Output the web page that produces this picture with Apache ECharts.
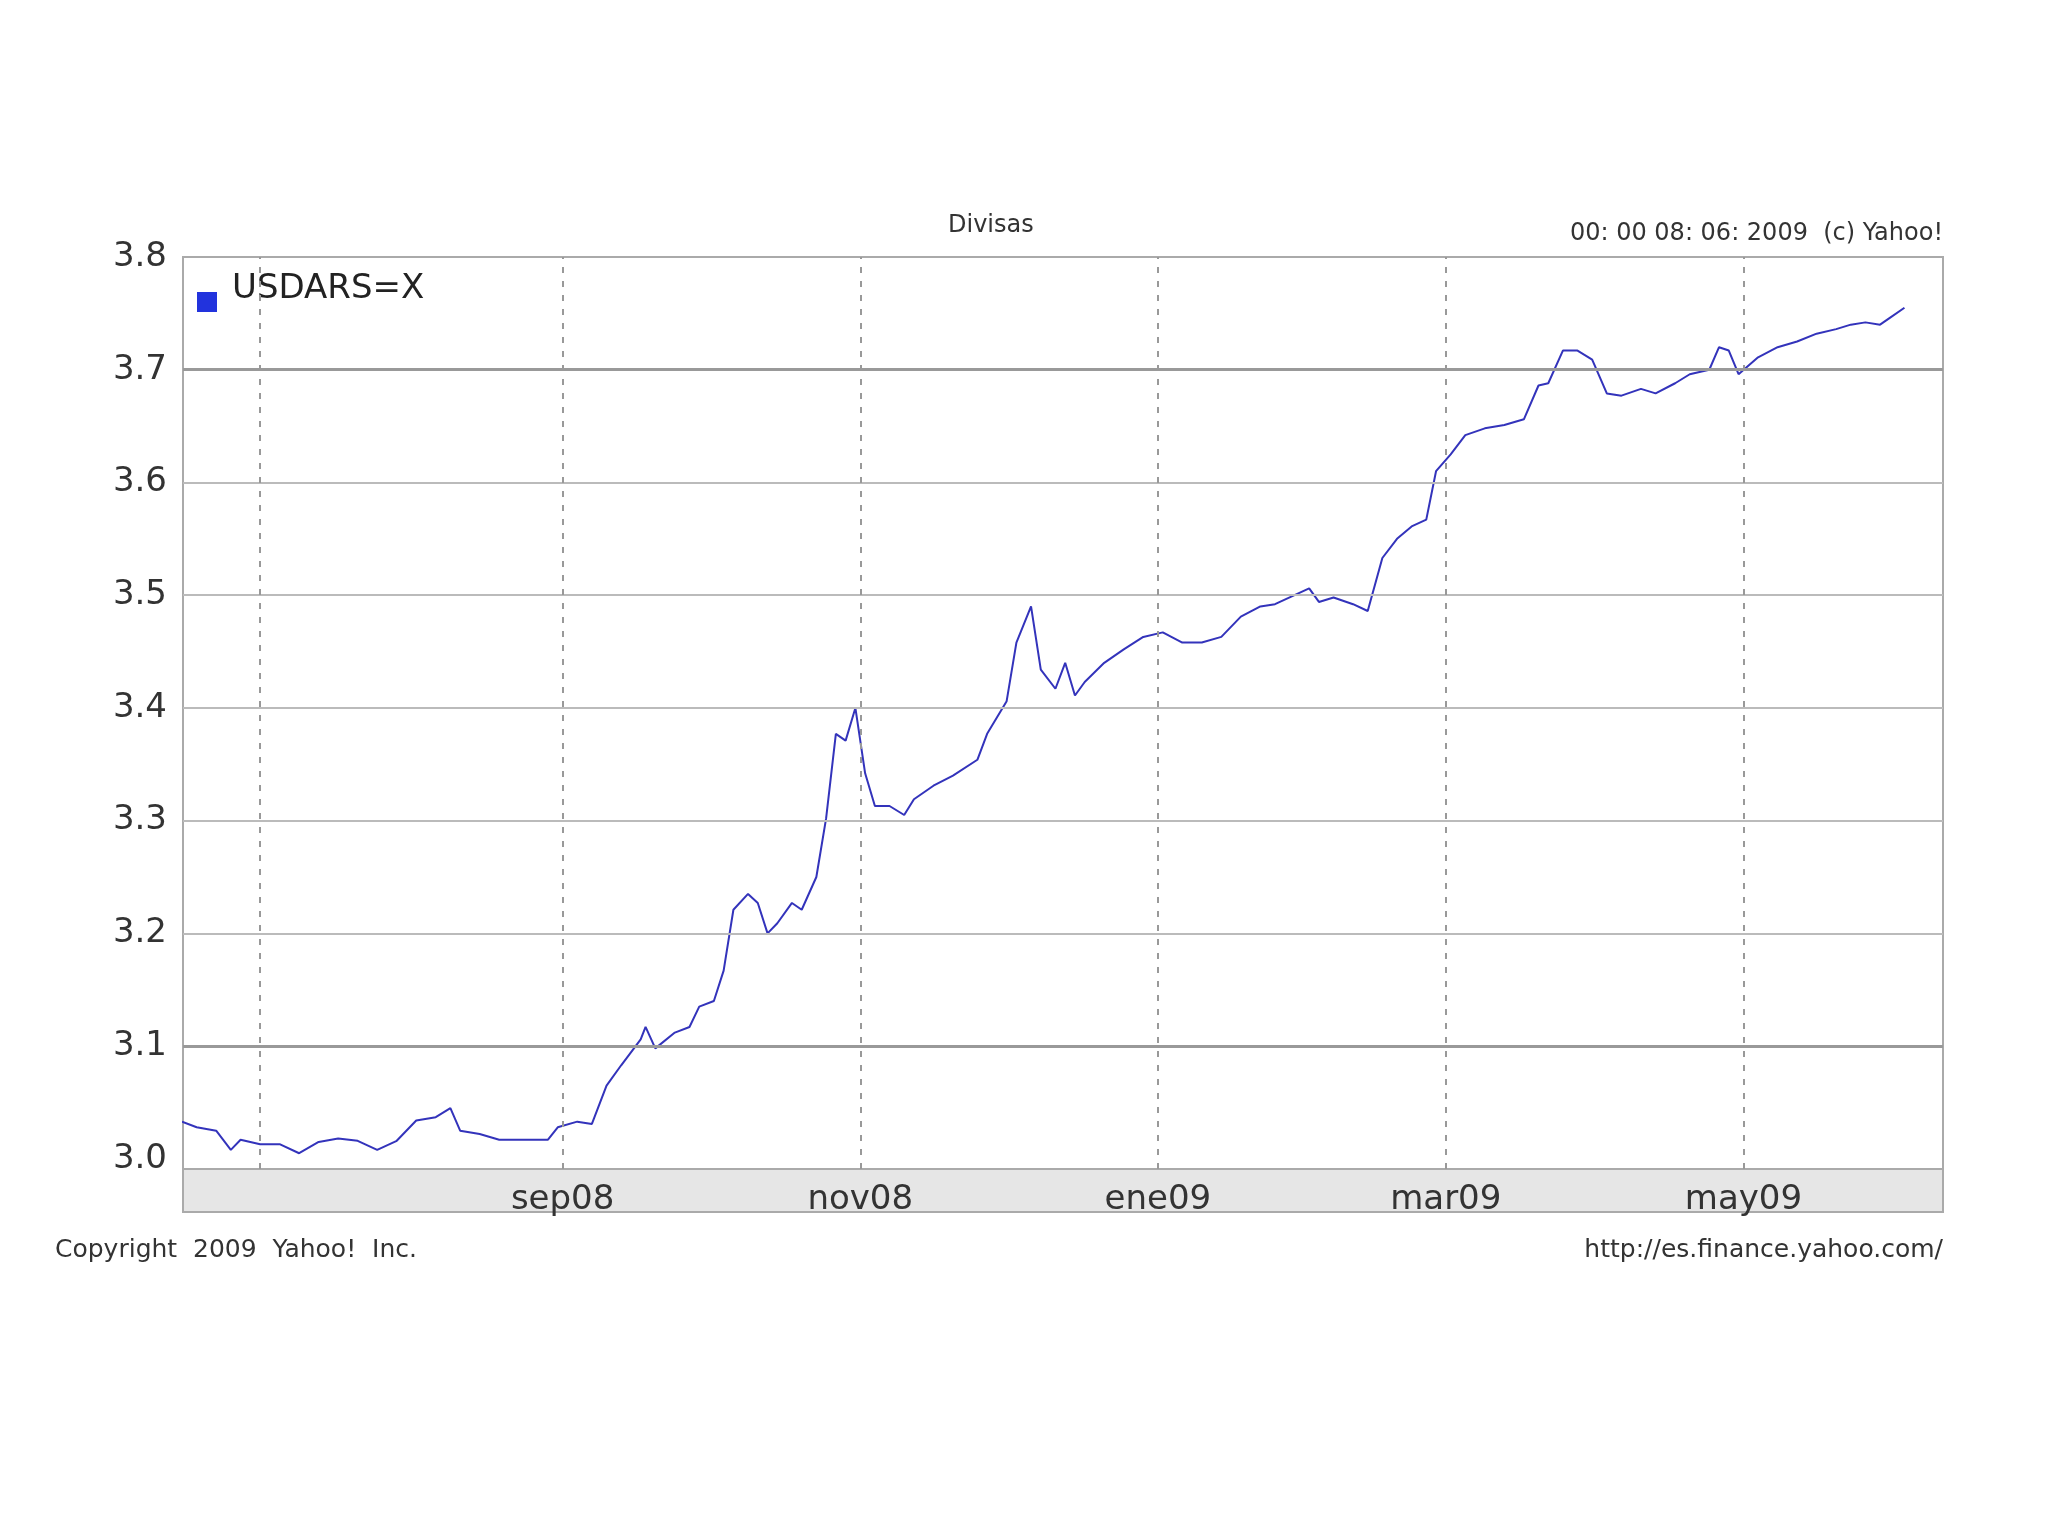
<!DOCTYPE html>
<html><head><meta charset="utf-8">
<script src="https://cdn.jsdelivr.net/npm/echarts@6/dist/echarts.min.js"></script>
<style>html,body{margin:0;background:#fff}#c{width:2048px;height:1536px}</style>
</head><body><div id="c"></div>
<script>
// days after 2008-07-01
const days = [-16,-13,-9,-6,-4,0,4,8,12,16,20,24,28,32,36,39,41,45,49,53,59,61,65,68,71,74,78,79,81,85,88,90,93,95,97,100,102,104,106,109,111,114,116,118,120,122,124,126,129,132,134,138,142,147,149,153,155,158,160,163,165,167,169,173,177,181,185,189,193,197,201,205,208,211,215,217,220,224,227,230,233,236,239,241,244,247,251,255,259,262,264,267,270,273,276,279,283,286,290,293,297,299,301,303,307,311,315,319,323,326,329,332,334,337];
const rates = [3.033,3.028,3.025,3.008,3.017,3.013,3.013,3.005,3.015,3.018,3.016,3.008,3.016,3.034,3.037,3.045,3.025,3.022,3.017,3.017,3.017,3.028,3.033,3.031,3.065,3.083,3.106,3.117,3.098,3.112,3.117,3.135,3.140,3.167,3.221,3.235,3.227,3.200,3.209,3.227,3.221,3.250,3.302,3.377,3.371,3.400,3.342,3.313,3.313,3.305,3.319,3.331,3.340,3.354,3.377,3.406,3.458,3.490,3.434,3.417,3.440,3.411,3.423,3.440,3.452,3.463,3.467,3.458,3.458,3.463,3.481,3.490,3.492,3.498,3.506,3.494,3.498,3.492,3.486,3.533,3.550,3.561,3.567,3.610,3.625,3.642,3.648,3.651,3.656,3.686,3.688,3.717,3.717,3.709,3.679,3.677,3.683,3.679,3.688,3.696,3.700,3.720,3.717,3.696,3.711,3.720,3.725,3.732,3.736,3.740,3.742,3.740,3.746,3.755];
const yTicks = [3.0,3.1,3.2,3.3,3.4,3.5,3.6,3.7,3.8];
const monthNames = ['ene','feb','mar','abr','may','jun','jul','ago','sep','oct','nov','dic'];
const DAY = 86400000, BASE = Date.UTC(2008,6,1);
const evenMonths = [[2008,6],[2008,8],[2008,10],[2009,0],[2009,2],[2009,4]].map(([y,m])=>Date.UTC(y,m,1));
const labelMonths = evenMonths.slice(1);
const data = days.map((d,i)=>[BASE+d*DAY, rates[i]]);
const chart = echarts.init(document.getElementById('c'));
const lineMarks = [3.1,3.2,3.3,3.4,3.5,3.6,3.7].map(v=>({yAxis:v, lineStyle:{color:(v===3.1||v===3.7)?'#999':'#bbb', width:(v===3.1||v===3.7)?3:2, type:'solid'}}));
const vMarks = evenMonths.map(t=>({xAxis:t, lineStyle:{color:'#999', width:2, type:[6,8]}}));
chart.setOption({
  animation:false,
  grid:{left:183,right:105,top:257,bottom:367,show:true,borderColor:'#aaa',borderWidth:2,backgroundColor:'#fff'},
  graphic:[
    {type:'rect',shape:{x:183,y:1169,width:1760,height:43},style:{fill:'#e6e6e6',stroke:'#aaa',lineWidth:2},z:-1},
    {type:'text',left:948,top:214,style:{text:'Divisas',font:'24px "DejaVu Sans"',fill:'#333'}},
    {type:'text',right:105,top:222,style:{text:'00: 00 08: 06: 2009  (c) Yahoo!',font:'24px "DejaVu Sans"',fill:'#333'}},
    {type:'text',left:55,top:1238,style:{text:'Copyright  2009  Yahoo!  Inc.',font:'25px "DejaVu Sans"',fill:'#333'}},
    {type:'text',right:105,top:1238,style:{text:'http://es.finance.yahoo.com/',font:'25px "DejaVu Sans"',fill:'#333'}},
    {type:'rect',shape:{x:197,y:292,width:20,height:20},style:{fill:'#2233dd'}},
    {type:'text',left:232,top:272,style:{text:'USDARS=X',font:'34px "DejaVu Sans"',fill:'#222'}}
  ],
  xAxis:{type:'value',min:BASE-15.8*DAY,max:BASE+344.9*DAY,
    axisLine:{show:false},splitLine:{show:false},
    axisTick:{show:false},
    axisLabel:{customValues:labelMonths,margin:14,fontSize:34,color:'#333',fontFamily:'DejaVu Sans',
      formatter:v=>{const d=new Date(v);return monthNames[d.getUTCMonth()]+String(d.getUTCFullYear()%100).padStart(2,'0');}}},
  yAxis:{type:'value',min:2.991,max:3.8,
    axisLine:{show:false},axisTick:{show:false},splitLine:{show:false},
    axisLabel:{customValues:yTicks,fontSize:34,color:'#333',fontFamily:'DejaVu Sans',margin:16,formatter:v=>v.toFixed(1)}},
  series:[{type:'line',data:data,showSymbol:false,lineStyle:{color:'#3333bb',width:2},
    markLine:{silent:true,symbol:'none',label:{show:false},data:lineMarks.concat(vMarks)}}]
});
</script></body></html>
